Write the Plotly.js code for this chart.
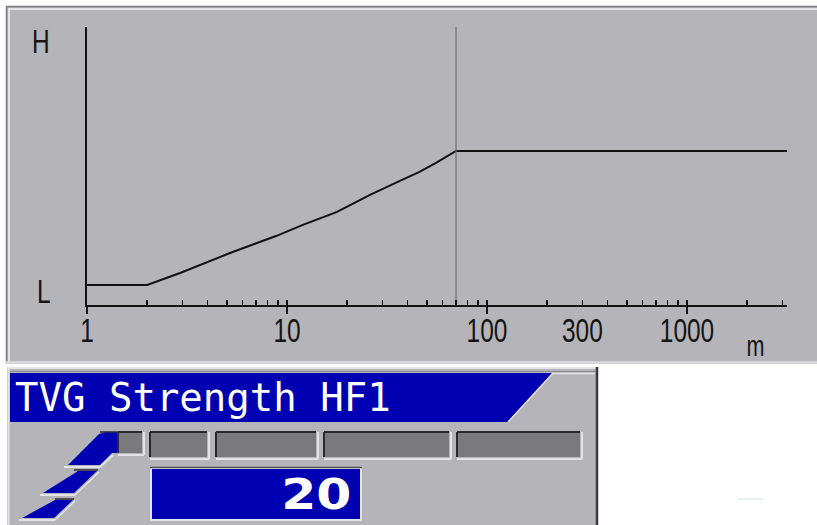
<!DOCTYPE html>
<html>
<head>
<meta charset="utf-8">
<script src="https://cdn.plot.ly/plotly-3.0.1.min.js"></script>
<style>html,body{margin:0;padding:0;background:#fff;}#chart{width:817px;height:525px;}</style>
</head>
<body>
<div id="chart"></div>
<script>
// ---- data ----
const rangeMetres = [1, 2, 2.92, 5.19, 8.81, 12.0, 17.8, 26.0, 37.6, 45.7, 55.6, 70, 3162];
const tvgLevel    = [7.2, 7.2, 11.5, 18.7, 24.8, 28.8, 33.5, 39.6, 45.0, 47.8, 51.1, 55.4, 55.4];
const tvgLimitRange = [70, 70];
const tvgLimitSpan  = [0, 100];
const xTickVals  = [1, 10, 100, 300, 1000];
const xTickText  = ['1', '10', '100', '300', '1000'];
const xMajorVals = [1, 10, 100, 1000];
const xMinorVals = [2,3,4,5,6,7,8,9,20,30,40,50,60,70,80,90,200,400,500,600,700,800,900,2000,3000];
const yTickVals  = [5, 95];
const yTickText  = ['L', 'H'];
const panelTitle = 'TVG Strength HF1';
const strengthValue = '20';
const unitLabel = 'm';

// ---- page geometry helpers ----
const W = 817, H = 525;
const fx = x => x / W;
const fy = y => 1 - y / H;
const GRAY = '#b5b4b9', BLUE = '#0000b2', DARKBOX = '#7a797e', LIGHT = '#e4e4e6', DARK = '#2a2a2e';
function rect(x0, y0, x1, y1, fill, lc, lw) {
  return {type:'rect', xref:'paper', yref:'paper', layer:'below',
    x0:fx(x0), x1:fx(x1), y0:fy(y1), y1:fy(y0),
    fillcolor:fill, line:{width:lw||0, color:lc||fill}};
}
function seg(x0, y0, x1, y1, color, w) {
  return {type:'line', xref:'paper', yref:'paper', layer:'below',
    x0:fx(x0), x1:fx(x1), y0:fy(y0), y1:fy(y1), line:{color:color, width:w||1}};
}
function poly(pts, fill) {
  return {type:'path', xref:'paper', yref:'paper', layer:'below',
    path:'M ' + pts.map(p => fx(p[0]) + ' ' + fy(p[1])).join(' L ') + ' Z',
    fillcolor:fill, line:{width:0}};
}
function box(x0, y0, x1, y1) {
  return [rect(x0, y0, x1, y1, DARKBOX),
          seg(x0, y0, x1, y0, DARK, 2), seg(x0, y0, x0, y1, DARK, 2),
          seg(x0, y1 + 2, x1 + 2, y1 + 2, LIGHT, 2), seg(x1 + 2, y0, x1 + 2, y1 + 2, LIGHT, 2)];
}

const shapes = [
  // upper panel
  rect(6, 6, 817, 364, GRAY),
  seg(6, 6.5, 817, 6.5, '#7c7c80', 1.5), seg(6.5, 6, 6.5, 364, '#7c7c80', 1.5),
  seg(8, 9, 817, 9, LIGHT, 2), seg(9, 8, 9, 362, LIGHT, 2),
  seg(6, 362.5, 817, 362.5, '#dcdcde', 2.5),
  // lower panel
  rect(7, 367, 598, 525, GRAY),
  seg(7, 368, 596, 368, LIGHT, 2), seg(8.5, 367, 8.5, 525, LIGHT, 2),
  seg(597, 367, 597, 525, '#3a3a3e', 2.5),
  seg(10, 371.5, 595, 371.5, '#8a8a8e', 1),
  poly([[10, 373], [553, 373], [508, 422], [10, 422]], BLUE),
  seg(553, 373, 508, 422, LIGHT, 1.5),
  seg(553, 373.5, 595, 373.5, LIGHT, 1.5),
  // left stylised blue ramp
  poly([[68, 465], [99, 434], [106, 432], [118, 432], [118, 453], [112, 453], [100, 465]], BLUE),
  seg(100, 432, 142, 432, DARK, 1.5),
  seg(64, 467, 100, 467, LIGHT, 2), seg(100, 467, 113, 455, LIGHT, 2),
  poly([[43, 493], [78, 471], [97, 471], [74, 493]], BLUE),
  seg(74, 470, 98, 470, DARK, 1.5),
  seg(40, 495, 75, 495, LIGHT, 2), seg(75, 495, 99, 472, LIGHT, 1.5),
  poly([[22, 518], [55, 500], [73, 500], [54, 518]], BLUE),
  seg(55, 499, 74, 499, DARK, 1.5),
  seg(19, 520, 55, 520, LIGHT, 2), seg(55, 520, 75, 501, LIGHT, 1.5),
  // value box
  rect(150, 467, 362, 521, LIGHT),
  rect(152, 469, 360, 519, BLUE),
  seg(150, 467.5, 362, 467.5, '#505054', 1.5),
  // faint artefact on white
  seg(737, 499, 763, 499, '#e2ecea', 1.5)
];
// grey indicator boxes
[[118, 432, 142, 453], [150, 432, 207, 457], [216, 432, 316, 457], [324, 432, 449, 457], [457, 432, 580, 457]]
  .forEach(b => box(b[0], b[1], b[2], b[3]).forEach(s => shapes.push(s)));

const labelFont = 'Liberation Sans, Arial, sans-serif';

const traces = [
  {x: tvgLimitRange, y: tvgLimitSpan, xaxis:'x2', yaxis:'y', mode:'lines',
   line:{color:'#6e6e74', width:1.2}, hoverinfo:'skip', showlegend:false},
  {x: rangeMetres, y: tvgLevel, xaxis:'x', yaxis:'y', mode:'lines',
   line:{color:'#111', width:2}, hoverinfo:'skip', showlegend:false}
];

const xDomain = [fx(87), fx(787)];
const layout = {
  width: W, height: H, autosize: false,
  margin: {l:0, r:0, t:0, b:0, pad:0},
  paper_bgcolor: '#ffffff', plot_bgcolor: 'rgba(0,0,0,0)',
  showlegend: false,
  xaxis: {type:'log', range:[0, 3.5], domain:xDomain, anchor:'y',
    showline:true, linecolor:'#111', linewidth:2, showgrid:false, zeroline:false,
    tickmode:'array', tickvals:xTickVals, ticktext:xTickText,
    ticks:'inside', ticklen:5, tickwidth:1.5, tickcolor:'#111',
    minor:{tickmode:'array', tickvals:xMinorVals, ticks:'inside', ticklen:5, tickwidth:1.5, tickcolor:'#111', showgrid:false},
    ticklabelstandoff: -6,
    tickfont:{family:labelFont, size:34, color:'#151515'}},
  xaxis2: {type:'log', range:[0, 3.5], domain:xDomain, anchor:'y', overlaying:'x',
    showline:false, showgrid:false, zeroline:false,
    tickmode:'array', tickvals:xMajorVals, ticks:'outside', ticklen:8, tickwidth:1.5, tickcolor:'#111',
    showticklabels:false},
  yaxis: {range:[0, 100], domain:[fy(305), fy(27)], anchor:'x',
    showline:true, linecolor:'#111', linewidth:2, showgrid:false, zeroline:false,
    tickmode:'array', tickvals:yTickVals, ticktext:yTickText, ticks:'',
    ticklabelstandoff: 25,
    tickfont:{family:labelFont, size:34, color:'#151515'}},
  shapes: shapes,
  annotations: [
    {xref:'paper', yref:'paper', x:fx(755), y:fy(345), text:unitLabel, showarrow:false,
     xanchor:'center', yanchor:'middle', font:{family:labelFont, size:30, color:'#151515'}},
    {xref:'paper', yref:'paper', x:fx(13), y:fy(397), text:panelTitle, showarrow:false,
     xanchor:'left', yanchor:'middle', font:{family:'DejaVu Sans Mono, monospace', size:39, color:'#ffffff'}},
    {xref:'paper', yref:'paper', x:fx(347), y:fy(494), text:strengthValue, showarrow:false,
     xanchor:'right', yanchor:'middle', font:{family:'DejaVu Sans, sans-serif', size:42, color:'#ffffff', weight:'bold'}}
  ]
};

// horizontally rescale real text elements about their own centre (keeps them as text)
function rescaleX(nodes, s) {
  nodes.forEach(t => {
    const bb = t.getBBox();
    const cx = bb.x + bb.width / 2;
    const tr = t.getAttribute('transform') || '';
    t.setAttribute('transform', tr + ' translate(' + cx + ',0) scale(' + s + ',1) translate(' + (-cx) + ',0)');
  });
}

Plotly.newPlot('chart', traces, layout, {staticPlot:true, displayModeBar:false}).then(gd => {
  rescaleX(Array.from(gd.querySelectorAll('.xtick text, .ytick text')), 0.72);
  const ann = gd.querySelectorAll('.annotation-text');
  if (ann[0]) rescaleX([ann[0]], 0.72);
  if (ann[2]) rescaleX([ann[2]], 1.2);
});
</script>
</body>
</html>
